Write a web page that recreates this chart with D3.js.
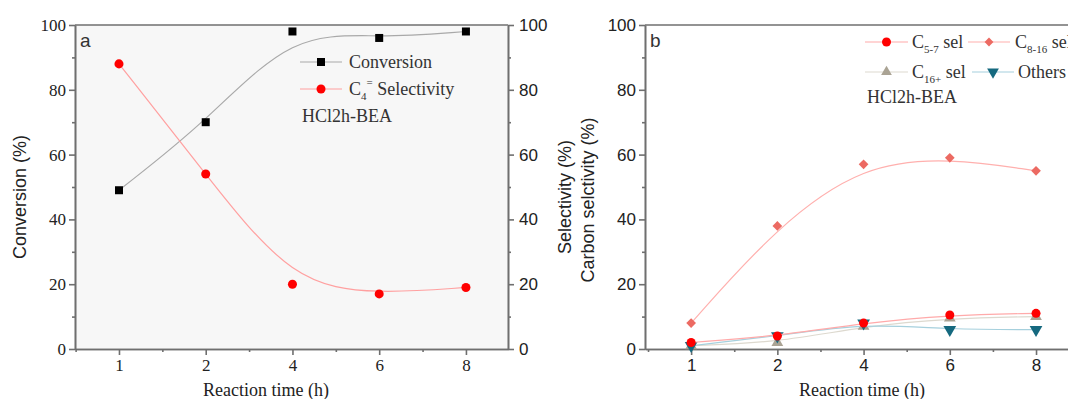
<!DOCTYPE html>
<html>
<head>
<meta charset="utf-8">
<script src="https://cdn.jsdelivr.net/npm/d3@7/dist/d3.min.js"></script>
<style>
  html, body { margin: 0; padding: 0; background: #ffffff; }
  svg { display: block; }
</style>
</head>
<body>
<svg id="chart" width="1068" height="399"></svg>
<script>
// Reaction times (h) shared by both panels
const times = ["1", "2", "4", "6", "8"];

// Panel a: conversion and C4= selectivity (%)
const conversion = [49, 70, 98, 96, 98];
const c4Selectivity = [88, 54, 20, 17, 19];

// Panel b: carbon selectivity by product range (%)
const c57Sel = [2, 4, 8, 10.5, 11];
const c816Sel = [8, 38, 57, 59, 55];
const c16Sel = [1, 2, 7, 9.5, 10];
const othersSel = [1, 4, 8, 6, 6];

const yTicks = [0, 20, 40, 60, 80, 100];

const SERIF = "'Liberation Serif', 'Times New Roman', serif";
const SANS = "'Liberation Sans', Arial, sans-serif";
const AXIS = "#6f6f6f";

const svg = d3.select("#chart");

function panel(opts) {
  const g = svg.append("g");
  const x = d3.scaleLinear().domain(opts.xDomain).range([opts.left, opts.right]);
  const y = d3.scaleLinear().domain([0, 100]).range([opts.bottom, opts.top]);

  if (opts.bg) {
    g.append("rect")
      .attr("x", opts.left).attr("y", opts.top)
      .attr("width", opts.right - opts.left).attr("height", opts.bottom - opts.top)
      .attr("fill", opts.bg);
  }

  // bottom axis: major ticks at each sample, minor ticks halfway
  const xAxis = d3.axisBottom(x)
    .tickValues(d3.range(times.length))
    .tickFormat(i => times[i])
    .tickSizeInner(6).tickSizeOuter(0).tickPadding(4);
  const xg = g.append("g").attr("transform", `translate(0,${opts.bottom})`).call(xAxis);
  xg.selectAll("text").attr("font-family", opts.xFont).attr("font-size", 17).attr("fill", "#222");
  const xMinor = d3.axisBottom(x)
    .tickValues(d3.range(-0.5, times.length, 1).filter(v => v > opts.xDomain[0] && v < opts.xDomain[1]))
    .tickFormat("").tickSizeInner(3).tickSizeOuter(0);
  g.append("g").attr("transform", `translate(0,${opts.bottom})`).call(xMinor);

  // left axis
  const yAxis = d3.axisLeft(y).tickValues(yTicks).tickSizeInner(6).tickSizeOuter(0).tickPadding(3);
  const yg = g.append("g").attr("transform", `translate(${opts.left},0)`).call(yAxis);
  yg.selectAll("text").attr("font-family", opts.yFont).attr("font-size", 17).attr("fill", "#222");
  g.append("g").attr("transform", `translate(${opts.left},0)`)
    .call(d3.axisLeft(y).tickValues(d3.range(10, 100, 20)).tickFormat("").tickSizeInner(3).tickSizeOuter(0));

  // right axis
  const ryAxis = d3.axisRight(y).tickValues(yTicks).tickSizeInner(opts.rightLabels ? 6 : 0)
    .tickSizeOuter(0).tickPadding(5).tickFormat(opts.rightLabels ? d3.format("d") : "");
  const ryg = g.append("g").attr("transform", `translate(${opts.right},0)`).call(ryAxis);
  ryg.selectAll("text").attr("font-family", SANS).attr("font-size", 17).attr("fill", "#222");
  if (opts.rightLabels) {
    g.append("g").attr("transform", `translate(${opts.right},0)`)
      .call(d3.axisRight(y).tickValues(d3.range(10, 100, 20)).tickFormat("").tickSizeInner(3).tickSizeOuter(0));
  }

  // top frame
  g.append("line")
    .attr("x1", opts.left).attr("x2", opts.right)
    .attr("y1", opts.top).attr("y2", opts.top);

  g.selectAll(".domain, .tick line, line").attr("stroke", AXIS).attr("stroke-width", 1.6);

  // panel letter
  g.append("text").attr("x", opts.left + 5).attr("y", opts.top + 22)
    .attr("font-family", SANS).attr("font-size", 19).attr("fill", "#333").text(opts.letter);

  return { g, x, y };
}

function drawSeries(p, values, lineColor, markerColor, symbolType, size, flip) {
  const line = d3.line()
    .x((d, i) => p.x(i))
    .y(d => p.y(d))
    .curve(d3.curveBasis);
  p.g.append("path").datum(values)
    .attr("d", line).attr("fill", "none")
    .attr("stroke", lineColor).attr("stroke-width", 1.2);
  const sym = d3.symbol().type(symbolType).size(size);
  p.g.selectAll(null).data(values).enter().append("path")
    .attr("d", sym)
    .attr("transform", (d, i) => `translate(${p.x(i)},${p.y(d)})${flip ? " rotate(180)" : ""}`)
    .attr("fill", markerColor);
}

function legendItem(g, x1, x2, yy, lineColor, markerColor, symbolType, size, flip) {
  g.append("line").attr("x1", x1).attr("x2", x2).attr("y1", yy).attr("y2", yy)
    .attr("stroke", lineColor).attr("stroke-width", 1.2);
  g.append("path")
    .attr("d", d3.symbol().type(symbolType).size(size))
    .attr("transform", `translate(${(x1 + x2) / 2},${yy})${flip ? " rotate(180)" : ""}`)
    .attr("fill", markerColor);
}

function chemLabel(g, x, yy, parts) {
  const t = g.append("text").attr("x", x).attr("y", yy)
    .attr("font-family", SERIF).attr("font-size", 18).attr("fill", "#333");
  parts.forEach(p => {
    const ts = t.append("tspan").text(p.text);
    if (p.sub) ts.attr("font-size", 11).attr("dy", 5);
    if (p.sup) ts.attr("font-size", 11).attr("dy", p.dy);
    if (p.reset) ts.attr("dy", p.reset);
  });
  return t;
}

// ---------- Panel a ----------
const pa = panel({
  left: 75, right: 508, top: 25, bottom: 349,
  xDomain: [-0.507, 4.485], letter: "a", bg: "#f7f7f7",
  xFont: SERIF, yFont: SERIF, rightLabels: true
});

drawSeries(pa, conversion, "#a9a9a9", "#000000", d3.symbolSquare, 64);
drawSeries(pa, c4Selectivity, "#ffa0a0", "#ff0000", d3.symbolCircle, 64);

legendItem(pa.g, 300, 342, 62, "#a9a9a9", "#000000", d3.symbolSquare, 64);
chemLabel(pa.g, 349, 68, [{ text: "Conversion" }]);
legendItem(pa.g, 300, 342, 89, "#ffa0a0", "#ff0000", d3.symbolCircle, 64);
chemLabel(pa.g, 349, 95, [
  { text: "C" }, { text: "4", sub: true }, { text: "=", sup: true, dy: -14 },
  { text: " Selectivity", reset: 9 }
]);
chemLabel(pa.g, 302, 122, [{ text: "HCl2h-BEA" }]);

// axis titles, panel a
svg.append("text")
  .attr("transform", "translate(26,197) rotate(-90)")
  .attr("text-anchor", "middle").attr("font-family", SANS).attr("font-size", 18).attr("fill", "#222")
  .text("Conversion (%)");
svg.append("text")
  .attr("x", 266).attr("y", 396)
  .attr("text-anchor", "middle").attr("font-family", SERIF).attr("font-size", 18).attr("fill", "#222")
  .text("Reaction time (h)");

// ---------- Panel b ----------
const pb = panel({
  left: 645, right: 1080, top: 25, bottom: 349,
  xDomain: [-0.535, 4.51], letter: "b", bg: null,
  xFont: SANS, yFont: SANS, rightLabels: false
});

drawSeries(pb, c816Sel, "#ffb0ae", "#ec6a62", d3.symbolDiamond2, 60);
drawSeries(pb, c16Sel, "#ddd9cf", "#aaa394", d3.symbolTriangle, 60);
drawSeries(pb, othersSel, "#a6d0dd", "#15697f", d3.symbolTriangle, 70, true);
drawSeries(pb, c57Sel, "#ffaaaa", "#ff0000", d3.symbolCircle, 64);

legendItem(pb.g, 865, 908, 42, "#ffaaaa", "#ff0000", d3.symbolCircle, 64);
chemLabel(pb.g, 912, 48, [{ text: "C" }, { text: "5-7", sub: true }, { text: " sel", reset: -5 }]);
legendItem(pb.g, 968, 1010, 42, "#ffb0ae", "#ec6a62", d3.symbolDiamond2, 50);
chemLabel(pb.g, 1015, 48, [{ text: "C" }, { text: "8-16", sub: true }, { text: " sel", reset: -5 }]);
legendItem(pb.g, 865, 908, 72, "#ddd9cf", "#aaa394", d3.symbolTriangle, 50);
chemLabel(pb.g, 912, 78, [{ text: "C" }, { text: "16+", sub: true }, { text: " sel", reset: -5 }]);
legendItem(pb.g, 972, 1014, 72, "#a6d0dd", "#15697f", d3.symbolTriangle, 60, true);
chemLabel(pb.g, 1018, 78, [{ text: "Others" }]);
chemLabel(pb.g, 867, 103, [{ text: "HCl2h-BEA" }]);

// axis titles, panel b
svg.append("text")
  .attr("transform", "translate(571,197) rotate(-90)")
  .attr("text-anchor", "middle").attr("font-family", SANS).attr("font-size", 18).attr("fill", "#222")
  .text("Selectivity (%)");
svg.append("text")
  .attr("transform", "translate(594,200) rotate(-90)")
  .attr("text-anchor", "middle").attr("font-family", SANS).attr("font-size", 18).attr("fill", "#222")
  .text("Carbon selctivity (%)");
svg.append("text")
  .attr("x", 862).attr("y", 396)
  .attr("text-anchor", "middle").attr("font-family", SERIF).attr("font-size", 18).attr("fill", "#222")
  .text("Reaction time (h)");
</script>
</body>
</html>
